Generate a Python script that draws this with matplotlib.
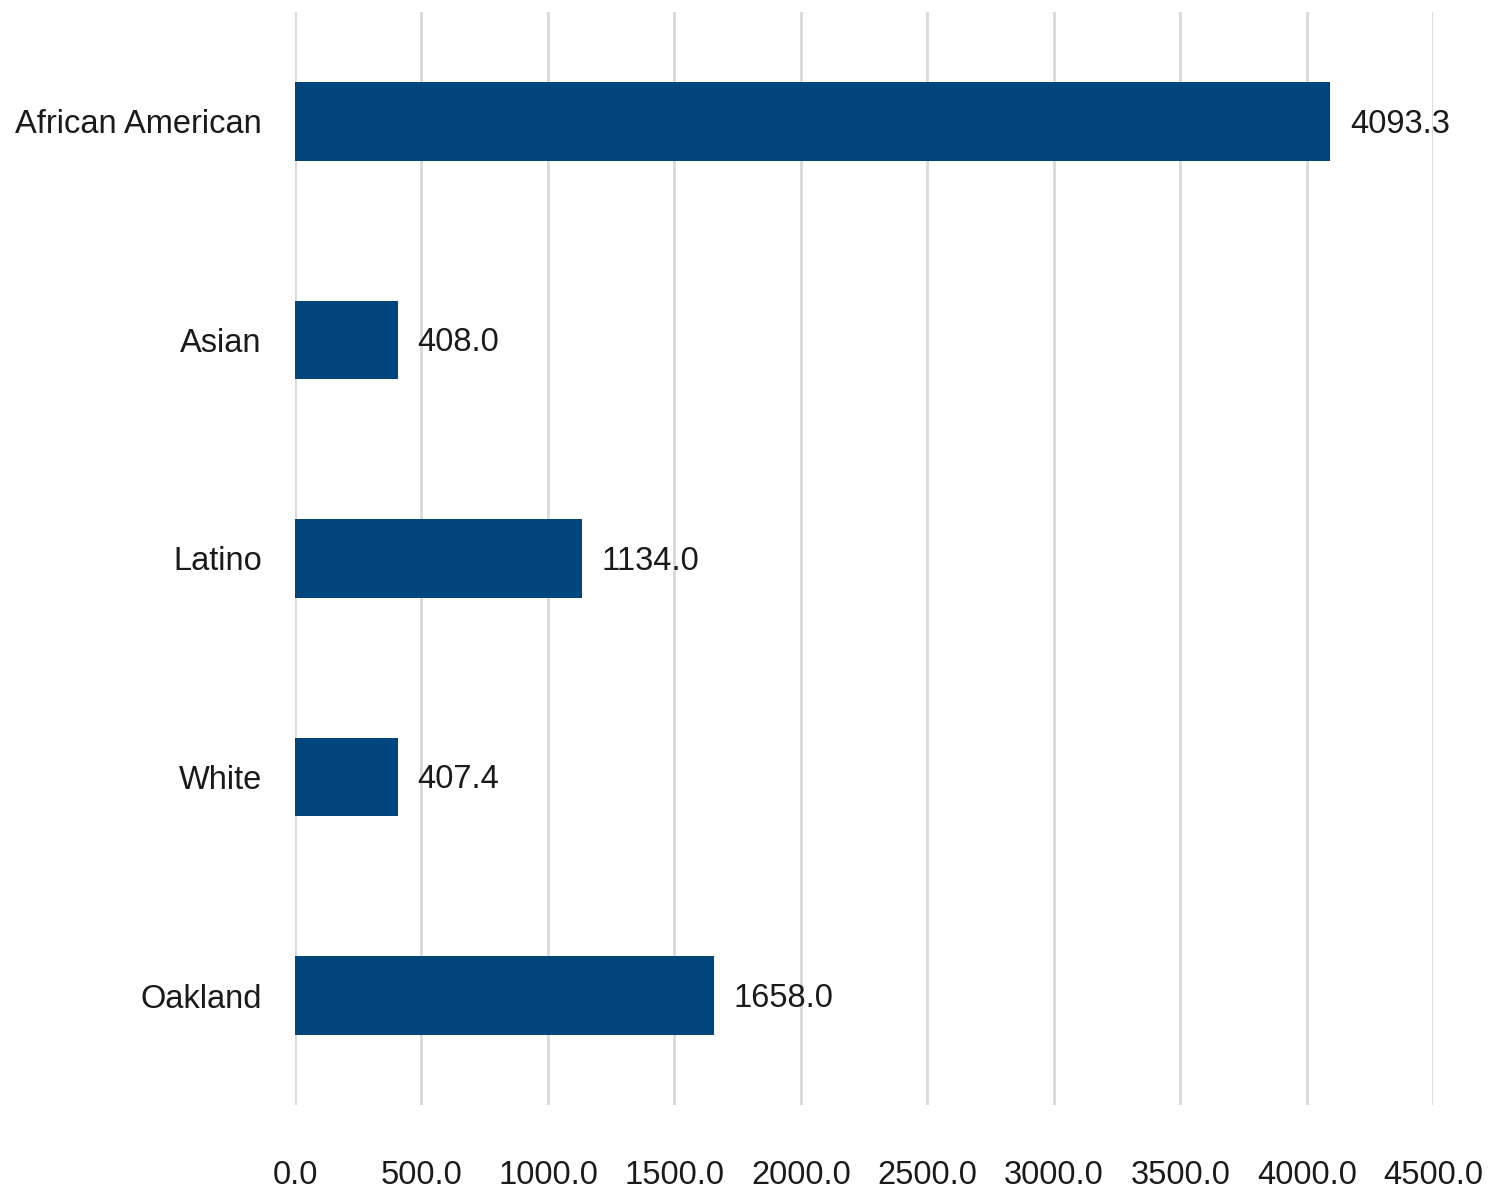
import matplotlib
matplotlib.use("Agg")
import matplotlib.pyplot as plt

categories = ["African American", "Asian", "Latino", "White", "Oakland"]
values = [4093.3, 408.0, 1134.0, 407.4, 1658.0]
xticks = [0, 500, 1000, 1500, 2000, 2500, 3000, 3500, 4000, 4500]

plt.rcParams["font.family"] = ["Liberation Sans", "DejaVu Sans"]

fig = plt.figure(figsize=(14.93, 12.01), dpi=100)
ax = fig.add_axes([0.1976, 0.080, 0.7624, 0.910])

bar_color = "#00457C"
fs = 23.5
y = list(range(len(categories)))
ax.barh(y, values, height=0.36, color=bar_color, zorder=3)
for yi, v in zip(y, values):
    ax.annotate(f"{v:.1f}", xy=(v, yi), xytext=(14, -2), textcoords="offset points",
                va="center", ha="left", fontsize=fs, color="#1a1a1a")

ax.set_ylim(4.5, -0.5)
ax.set_xlim(0, 4500)
ax.set_xticks(xticks)
ax.set_xticklabels([f"{t:.1f}" for t in xticks])
ax.set_yticks(y)
ax.set_yticklabels(categories)
ax.tick_params(axis="x", length=0, pad=40, labelsize=fs, labelcolor="#1a1a1a")
ax.tick_params(axis="y", length=0, pad=24, labelsize=fs, labelcolor="#1a1a1a")
ax.grid(axis="x", color="#d9d9d9", linewidth=2, zorder=0)
for s in ax.spines.values():
    s.set_visible(False)

fig.savefig("out.png", dpi=100)
